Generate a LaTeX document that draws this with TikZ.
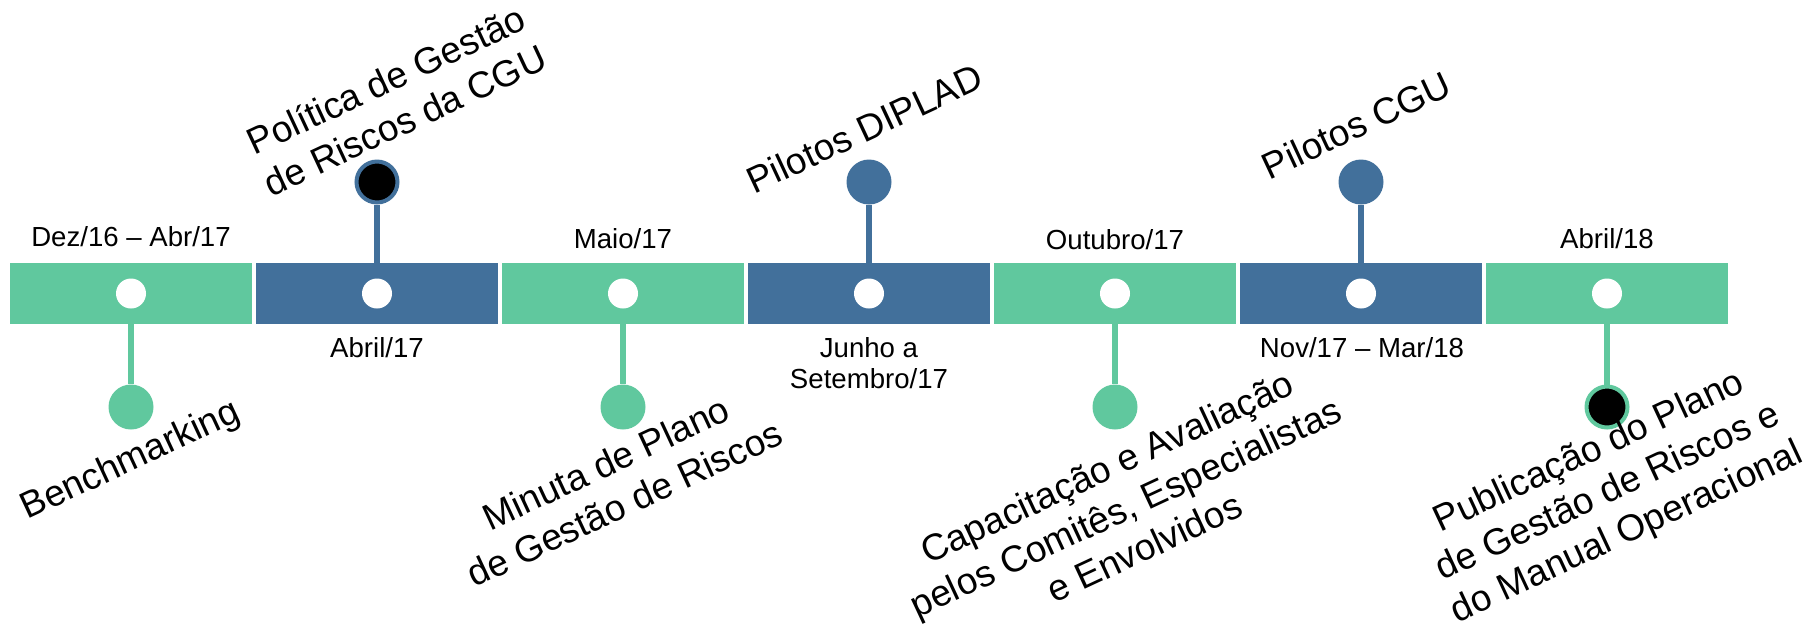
\documentclass[tikz,border=0pt]{standalone}
\usepackage{fontspec}
\setmainfont{Liberation Sans}
\definecolor{tlgreen}{RGB}{96,200,158}
\definecolor{tlblue}{RGB}{66,112,155}
\begin{document}
\begin{tikzpicture}[x=0.5pt,y=-0.5pt,
  barbox/.style={rectangle, minimum width=121pt, minimum height=30.5pt, inner sep=0pt, draw=none},
  whitedot/.style={circle, fill=white, minimum size=15pt, inner sep=0pt},
  fulldot/.style={circle, fill=#1, minimum size=22.5pt, inner sep=0pt},
  blackdot/.style={circle, fill=black, draw=#1, line width=2pt, minimum size=20.5pt, inner sep=0pt},
  stem/.style={line width=3pt, draw=#1},
  datelabel/.style={font=\fontsize{13.8pt}{15.5pt}\selectfont, inner sep=0pt, align=center},
  biglabel/.style={font=\fontsize{18.5pt}{22.25pt}\selectfont, inner sep=0pt, align=center, rotate=25}]
\useasboundingbox (0,0) rectangle (1816,629);
% bars
\foreach \i/\c in {1/tlgreen,2/tlblue,3/tlgreen,4/tlblue,5/tlgreen,6/tlblue,7/tlgreen}{
  \node[barbox, fill=\c] (bar\i) at ({131+246*(\i-1)},293.5) {};
}
% milestone circles
\node[fulldot=tlgreen] (m1) at (131,407) {};
\node[blackdot=tlblue] (m2) at (377,182) {};
\node[fulldot=tlgreen] (m3) at (623,407) {};
\node[fulldot=tlblue] (m4) at (869,182) {};
\node[fulldot=tlgreen] (m5) at (1115,407) {};
\node[fulldot=tlblue] (m6) at (1361,182) {};
% stems
\draw[stem=tlgreen] (bar1.south) -- (m1.north);
\draw[stem=tlblue] (bar2.north) -- (m2.south);
\draw[stem=tlgreen] (bar3.south) -- (m3.north);
\draw[stem=tlblue] (bar4.north) -- (m4.south);
\draw[stem=tlgreen] (bar5.south) -- (m5.north);
\draw[stem=tlblue] (bar6.north) -- (m6.south);
\draw[stem=tlgreen] (bar7.south) -- (1607,390) coordinate (s7);
\node[blackdot=tlgreen] (m7) at (1607,407) {};
% white dots
\foreach \i in {1,...,7}{
  \node[whitedot] (w\i) at (bar\i.center) {};
}
% date labels
\node[datelabel, anchor=base] (d1) at (131,246) {Dez/16 – Abr/17};
\node[datelabel, anchor=base] (d2) at (377,357) {Abril/17};
\node[datelabel, anchor=base] (d3) at (623,248) {Maio/17};
\node[datelabel, anchor=north] (d4) at (869,337.5) {Junho a\\Setembro/17};
\node[datelabel, anchor=base] (d5) at (1115,249) {Outubro/17};
\node[datelabel, anchor=base] (d6) at (1362,357) {Nov/17 – Mar/18};
\node[datelabel, anchor=base] (d7) at (1607,248) {Abril/18};
% event labels
\node[biglabel, anchor=base] (t1) at (135,470) {Benchmarking};
\node[biglabel] (t2) at (395.4,100) {Política de Gestão\\de Riscos da CGU};
\node[biglabel] (t3) at (615.1,483.1) {Minuta de Plano\\de Gestão de Riscos};
\node[biglabel, anchor=base] (t4) at (870,140.5) {Pilotos DIPLAD};
\node[biglabel] (t5) at (1125.5,507.1) {Capacitação e Avaliação\\pelos Comitês, Especialistas\\e Envolvidos};
\node[biglabel, anchor=base] (t6) at (1362,137) {Pilotos CGU};
\node[biglabel] (t7) at (1608.4,493.2) {Publicação do Plano\\de Gestão de Riscos e\\do Manual Operacional};
\end{tikzpicture}
\end{document}
